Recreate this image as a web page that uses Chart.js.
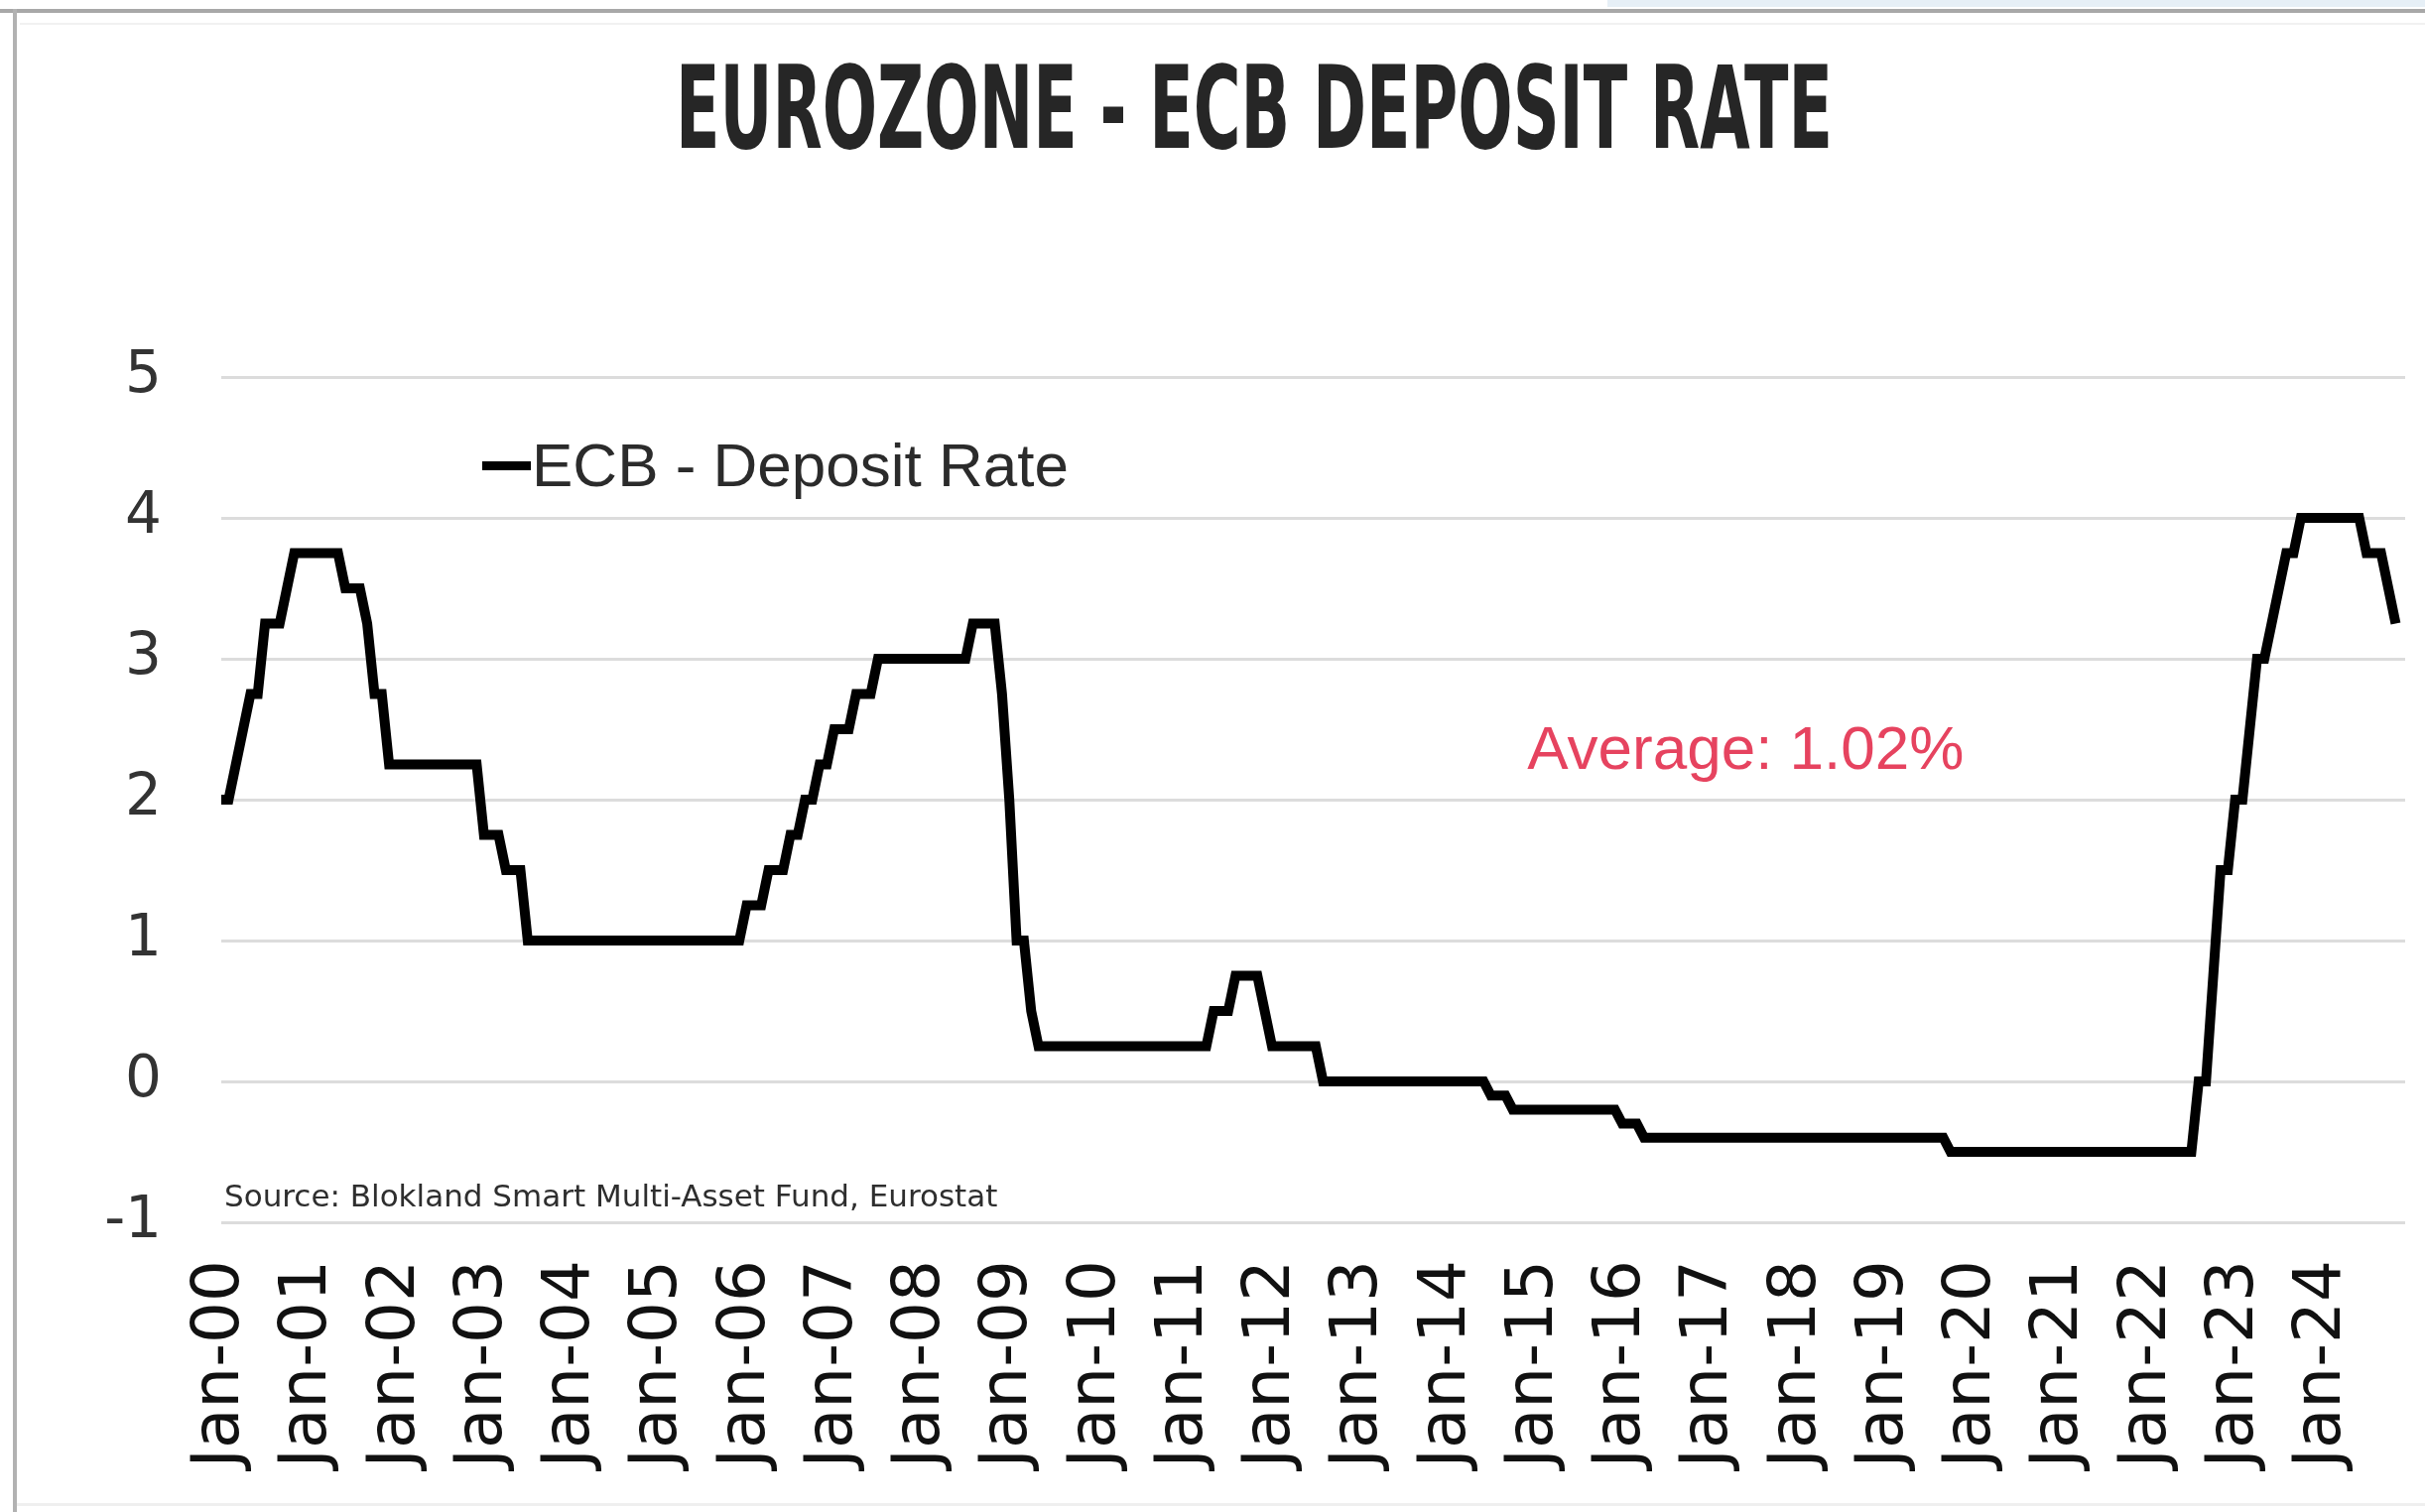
<!DOCTYPE html>
<html>
<head>
<meta charset="utf-8">
<title>Eurozone - ECB Deposit Rate</title>
<script src="https://cdn.jsdelivr.net/npm/chart.js@4.4.1/dist/chart.umd.min.js"></script>
<style>
  html, body { margin: 0; padding: 0; background: #fff; }
  body { width: 2444px; height: 1524px; position: relative; overflow: hidden; }
  #chart { position: absolute; left: 0; top: 0; }
  .edge { position: absolute; }
  #edgeSky { left: 1620px; top: 0; width: 824px; height: 7px; background: #e6eff6; }
  #edgeTop { left: 0; top: 9px; width: 2444px; height: 4px; background: #a8a8a8; }
  #edgeTop2 { left: 20px; top: 23px; width: 2424px; height: 2px; background: #f1f1f1; }
  #edgeLeft { left: 13px; top: 9px; width: 4px; height: 1515px; background: #b2b2b2; }
  #edgeBottom { left: 17px; top: 1515px; width: 2427px; height: 3px; background: #efefef; }
</style>
</head>
<body>
<canvas id="chart" width="2444" height="1524"></canvas>
<div class="edge" id="edgeSky"></div>
<div class="edge" id="edgeTop"></div>
<div class="edge" id="edgeTop2"></div>
<div class="edge" id="edgeLeft"></div>
<div class="edge" id="edgeBottom"></div>
<script>
// ECB deposit facility rate (%), start of each month, Jan 2000 .. Nov 2024
const dr2000 = [2.00, 2.00, 2.25, 2.50, 2.75, 2.75, 3.25, 3.25, 3.25, 3.50, 3.75, 3.75];
const dr2001 = [3.75, 3.75, 3.75, 3.75, 3.75, 3.50, 3.50, 3.50, 3.25, 2.75, 2.75, 2.25];
const dr2002 = [2.25, 2.25, 2.25, 2.25, 2.25, 2.25, 2.25, 2.25, 2.25, 2.25, 2.25, 2.25];
const dr2003 = [1.75, 1.75, 1.75, 1.50, 1.50, 1.50, 1.00, 1.00, 1.00, 1.00, 1.00, 1.00];
const dr2004 = [1.00, 1.00, 1.00, 1.00, 1.00, 1.00, 1.00, 1.00, 1.00, 1.00, 1.00, 1.00];
const dr2005 = [1.00, 1.00, 1.00, 1.00, 1.00, 1.00, 1.00, 1.00, 1.00, 1.00, 1.00, 1.00];
const dr2006 = [1.25, 1.25, 1.25, 1.50, 1.50, 1.50, 1.75, 1.75, 2.00, 2.00, 2.25, 2.25];
const dr2007 = [2.50, 2.50, 2.50, 2.75, 2.75, 2.75, 3.00, 3.00, 3.00, 3.00, 3.00, 3.00];
const dr2008 = [3.00, 3.00, 3.00, 3.00, 3.00, 3.00, 3.00, 3.25, 3.25, 3.25, 3.25, 2.75];
const dr2009 = [2.00, 1.00, 1.00, 0.50, 0.25, 0.25, 0.25, 0.25, 0.25, 0.25, 0.25, 0.25];
const dr2010 = [0.25, 0.25, 0.25, 0.25, 0.25, 0.25, 0.25, 0.25, 0.25, 0.25, 0.25, 0.25];
const dr2011 = [0.25, 0.25, 0.25, 0.25, 0.50, 0.50, 0.50, 0.75, 0.75, 0.75, 0.75, 0.50];
const dr2012 = [0.25, 0.25, 0.25, 0.25, 0.25, 0.25, 0.25, 0.00, 0.00, 0.00, 0.00, 0.00];
const dr2013 = [0.00, 0.00, 0.00, 0.00, 0.00, 0.00, 0.00, 0.00, 0.00, 0.00, 0.00, 0.00];
const dr2014 = [0.00, 0.00, 0.00, 0.00, 0.00, 0.00, -0.10, -0.10, -0.10, -0.20, -0.20, -0.20];
const dr2015 = [-0.20, -0.20, -0.20, -0.20, -0.20, -0.20, -0.20, -0.20, -0.20, -0.20, -0.20, -0.20];
const dr2016 = [-0.30, -0.30, -0.30, -0.40, -0.40, -0.40, -0.40, -0.40, -0.40, -0.40, -0.40, -0.40];
const dr2017 = [-0.40, -0.40, -0.40, -0.40, -0.40, -0.40, -0.40, -0.40, -0.40, -0.40, -0.40, -0.40];
const dr2018 = [-0.40, -0.40, -0.40, -0.40, -0.40, -0.40, -0.40, -0.40, -0.40, -0.40, -0.40, -0.40];
const dr2019 = [-0.40, -0.40, -0.40, -0.40, -0.40, -0.40, -0.40, -0.40, -0.40, -0.50, -0.50, -0.50];
const dr2020 = [-0.50, -0.50, -0.50, -0.50, -0.50, -0.50, -0.50, -0.50, -0.50, -0.50, -0.50, -0.50];
const dr2021 = [-0.50, -0.50, -0.50, -0.50, -0.50, -0.50, -0.50, -0.50, -0.50, -0.50, -0.50, -0.50];
const dr2022 = [-0.50, -0.50, -0.50, -0.50, -0.50, -0.50, -0.50, 0.00, 0.00, 0.75, 1.50, 1.50];
const dr2023 = [2.00, 2.00, 2.50, 3.00, 3.00, 3.25, 3.50, 3.75, 3.75, 4.00, 4.00, 4.00];
const dr2024 = [4.00, 4.00, 4.00, 4.00, 4.00, 4.00, 3.75, 3.75, 3.75, 3.50, 3.25];

const yearLabels = ['Jan-00', 'Jan-01', 'Jan-02', 'Jan-03', 'Jan-04', 'Jan-05', 'Jan-06',
  'Jan-07', 'Jan-08', 'Jan-09', 'Jan-10', 'Jan-11', 'Jan-12', 'Jan-13', 'Jan-14', 'Jan-15',
  'Jan-16', 'Jan-17', 'Jan-18', 'Jan-19', 'Jan-20', 'Jan-21', 'Jan-22', 'Jan-23', 'Jan-24'];
const yTicks = [-1, 0, 1, 2, 3, 4, 5];

const TITLE = 'EUROZONE - ECB DEPOSIT RATE';
const SERIES_NAME = 'ECB - Deposit Rate';
const AVERAGE_NOTE = 'Average: 1.02%';
const SOURCE_NOTE = 'Source: Blokland Smart Multi-Asset Fund, Eurostat';

const depositRate = [].concat(dr2000, dr2001, dr2002, dr2003, dr2004, dr2005, dr2006, dr2007,
  dr2008, dr2009, dr2010, dr2011, dr2012, dr2013, dr2014, dr2015, dr2016, dr2017, dr2018,
  dr2019, dr2020, dr2021, dr2022, dr2023, dr2024);

// title, in-plot legend, average note and source line
const notes = {
  id: 'notes',
  afterDraw(chart) {
    const { ctx, chartArea: area, scales: { x, y } } = chart;

    // condensed bold headline: squeeze to its box width
    ctx.save();
    ctx.font = 'bold 115px "Liberation Sans Narrow", "DejaVu Sans Condensed", "DejaVu Sans", sans-serif';
    ctx.fillStyle = '#262626';
    ctx.textAlign = 'center';
    ctx.textBaseline = 'alphabetic';
    const tw = ctx.measureText(TITLE).width;
    ctx.translate(1264, 149);
    ctx.scale(1166 / tw, 1);
    ctx.fillText(TITLE, 0, 0);
    ctx.restore();

    // legend sample + label
    ctx.save();
    const ly = y.getPixelForValue(4.37);
    ctx.strokeStyle = '#000';
    ctx.lineWidth = 9;
    ctx.beginPath();
    ctx.moveTo(486, ly);
    ctx.lineTo(535, ly);
    ctx.stroke();
    ctx.font = '62px "Liberation Sans", Arial, sans-serif';
    ctx.fillStyle = '#2b2b2b';
    ctx.textAlign = 'left';
    ctx.textBaseline = 'alphabetic';
    ctx.fillText(SERIES_NAME, 536, ly + 21);

    // average note
    ctx.font = '62px "Liberation Sans", Arial, sans-serif';
    ctx.fillStyle = '#e6435f';
    ctx.fillText(AVERAGE_NOTE, x.getPixelForValue(179), y.getPixelForValue(2.22));

    // source line
    ctx.font = '31px "DejaVu Sans", sans-serif';
    ctx.fillStyle = '#2e2e2e';
    ctx.fillText(SOURCE_NOTE, area.left + 3, y.getPixelForValue(-0.89));
    ctx.restore();
  }
};

new Chart(document.getElementById('chart'), {
  type: 'line',
  data: {
    datasets: [{
      label: SERIES_NAME,
      data: depositRate.map((v, i) => ({ x: i, y: v })),
      borderColor: '#000',
      borderWidth: 10,
      pointRadius: 0,
      tension: 0,
      fill: false,
      borderJoinStyle: 'miter'
    }]
  },
  options: {
    responsive: false,
    animation: false,
    devicePixelRatio: 1,
    layout: { padding: { top: 380, right: 20, bottom: 0, left: 0 } },
    scales: {
      x: {
        type: 'linear',
        min: 0,
        max: 299.3,
        grid: { display: false, drawTicks: false },
        border: { display: false },
        afterBuildTicks: (s) => { s.ticks = yearLabels.map((_, i) => ({ value: i * 12 })); },
        afterFit: (s) => {
          s.height = 292;
          // rotated labels fit inside the plot width; no extra side margins
          s.paddingLeft = 0;
          s.paddingRight = 0;
        },
        ticks: {
          autoSkip: false,
          minRotation: 90,
          maxRotation: 90,
          padding: 38,
          color: '#111',
          font: { family: '"DejaVu Sans", sans-serif', size: 66 },
          callback: (v) => yearLabels[Math.round(v / 12)]
        }
      },
      y: {
        min: -1,
        max: 5,
        afterBuildTicks: (s) => { s.ticks = yTicks.map((v) => ({ value: v })); },
        afterFit: (s) => { s.width = 223; },
        grid: { color: '#dcdcdc', lineWidth: 3, drawTicks: false },
        border: { display: false },
        ticks: {
          padding: 60,
          color: '#333',
          font: { family: '"DejaVu Sans", sans-serif', size: 58 }
        }
      }
    },
    plugins: {
      legend: { display: false },
      title: { display: false },
      tooltip: { enabled: false }
    }
  },
  plugins: [notes]
});
</script>
</body>
</html>
